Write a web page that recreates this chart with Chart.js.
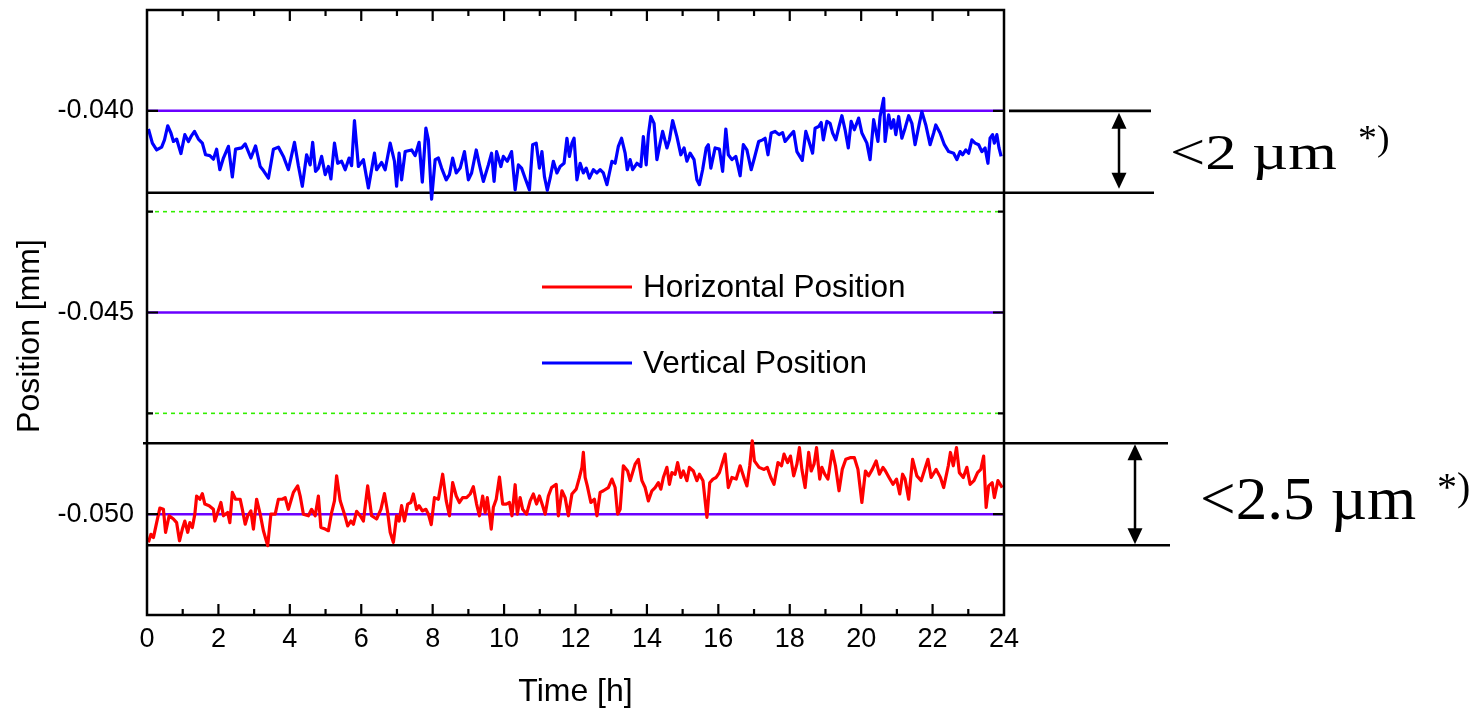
<!DOCTYPE html>
<html lang="en">
  <head>
    <meta charset="UTF-8" />
    <title>Beam position, 24 h</title>
    <script src="https://cdn.jsdelivr.net/npm/chart.js@4.4.1/dist/chart.umd.min.js"></script>
    <style>
      body { margin: 0; background: #fff; }
      canvas { display: block; }
    </style>
  </head>
  <body>
    <canvas id="posChart" width="1471" height="709"></canvas>
    <script>
      // vertical position (blue), time in hours / position in mm
      const vertHours = [
        0.04, 0.15, 0.27, 0.41, 0.49, 0.58, 0.67, 0.74, 0.83, 0.95,
        1.06, 1.16, 1.23, 1.33, 1.44, 1.55, 1.64, 1.76, 1.86, 1.95,
        2.04, 2.14, 2.28, 2.39, 2.48, 2.65, 2.75, 2.91, 3.04, 3.17,
        3.26, 3.40, 3.54, 3.68, 3.82, 3.96, 4.13, 4.24, 4.35, 4.47,
        4.57, 4.64, 4.72, 4.80, 4.89, 4.99, 5.08, 5.15, 5.25, 5.34,
        5.45, 5.55, 5.66, 5.73, 5.81, 5.92, 6.06, 6.20, 6.37, 6.43,
        6.57, 6.67, 6.81, 6.93, 6.99, 7.06, 7.13, 7.23, 7.41, 7.51,
        7.62, 7.71, 7.81, 7.88, 7.97, 8.07, 8.16, 8.25, 8.38, 8.47,
        8.56, 8.66, 8.77, 8.89, 9.00, 9.09, 9.22, 9.31, 9.42, 9.56,
        9.65, 9.72, 9.79, 9.91, 9.98, 10.09, 10.21, 10.31, 10.40, 10.49,
        10.59, 10.71, 10.80, 10.90, 10.99, 11.06, 11.13, 11.21, 11.29, 11.38,
        11.48, 11.57, 11.68, 11.76, 11.83, 11.90, 11.96, 12.04, 12.13, 12.22,
        12.30, 12.39, 12.50, 12.60, 12.69, 12.78, 12.88, 13.02, 13.11, 13.20,
        13.29, 13.39, 13.45, 13.53, 13.60, 13.72, 13.83, 13.90, 13.98, 14.04,
        14.11, 14.20, 14.28, 14.37, 14.44, 14.56, 14.63, 14.72, 14.84, 14.95,
        15.04, 15.12, 15.21, 15.32, 15.40, 15.47, 15.56, 15.66, 15.72, 15.79,
        15.91, 16.03, 16.12, 16.21, 16.28, 16.38, 16.49, 16.61, 16.70, 16.80,
        16.92, 17.01, 17.13, 17.24, 17.31, 17.39, 17.48, 17.59, 17.70, 17.80,
        17.87, 17.98, 18.11, 18.20, 18.35, 18.45, 18.54, 18.64, 18.71, 18.81,
        18.88, 18.94, 19.04, 19.13, 19.20, 19.29, 19.38, 19.46, 19.55, 19.64,
        19.72, 19.81, 19.93, 20.02, 20.16, 20.25, 20.35, 20.47, 20.53, 20.63,
        20.67, 20.77, 20.84, 20.91, 20.97, 21.05, 21.14, 21.23, 21.33, 21.42,
        21.51, 21.63, 21.70, 21.81, 21.93, 22.03, 22.09, 22.21, 22.33, 22.45,
        22.59, 22.68, 22.77, 22.84, 22.93, 23.01, 23.10, 23.19, 23.29, 23.38,
        23.47, 23.55, 23.61, 23.68, 23.73, 23.80, 23.86, 23.92
      ];
      const vertMm = [
        -0.04045, -0.04080, -0.04097, -0.04090, -0.04072, -0.04037, -0.04055, -0.04076, -0.04070, -0.04106,
        -0.04059, -0.04076, -0.04064, -0.04051, -0.04070, -0.04080, -0.04109, -0.04111, -0.04120, -0.04095,
        -0.04146, -0.04117, -0.04088, -0.04164, -0.04095, -0.04092, -0.04082, -0.04117, -0.04087, -0.04138,
        -0.04148, -0.04167, -0.04095, -0.04090, -0.04113, -0.04146, -0.04078, -0.04136, -0.04187, -0.04109,
        -0.04134, -0.04078, -0.04150, -0.04142, -0.04113, -0.04158, -0.04138, -0.04169, -0.04080, -0.04130,
        -0.04125, -0.04146, -0.04117, -0.04136, -0.04024, -0.04138, -0.04121, -0.04191, -0.04105, -0.04146,
        -0.04128, -0.04146, -0.04080, -0.04125, -0.04187, -0.04105, -0.04171, -0.04101, -0.04097, -0.04111,
        -0.04078, -0.04177, -0.04043, -0.04072, -0.04219, -0.04121, -0.04117, -0.04142, -0.04171, -0.04158,
        -0.04117, -0.04154, -0.04142, -0.04101, -0.04171, -0.04154, -0.04097, -0.04134, -0.04175, -0.04134,
        -0.04105, -0.04175, -0.04101, -0.04138, -0.04113, -0.04125, -0.04101, -0.04196, -0.04134, -0.04142,
        -0.04167, -0.04196, -0.04084, -0.04080, -0.04142, -0.04101, -0.04163, -0.04197, -0.04167, -0.04125,
        -0.04154, -0.04138, -0.04130, -0.04068, -0.04113, -0.04080, -0.04068, -0.04171, -0.04130, -0.04154,
        -0.04142, -0.04167, -0.04146, -0.04154, -0.04146, -0.04154, -0.04183, -0.04125, -0.04130, -0.04088,
        -0.04068, -0.04105, -0.04146, -0.04121, -0.04146, -0.04130, -0.04138, -0.04064, -0.04134, -0.04059,
        -0.04014, -0.04031, -0.04121, -0.04080, -0.04051, -0.04092, -0.04072, -0.04024, -0.04064, -0.04109,
        -0.04092, -0.04125, -0.04105, -0.04121, -0.04171, -0.04183, -0.04146, -0.04092, -0.04084, -0.04142,
        -0.04092, -0.04095, -0.04150, -0.04045, -0.04109, -0.04121, -0.04113, -0.04161, -0.04084, -0.04097,
        -0.04146, -0.04117, -0.04076, -0.04072, -0.04068, -0.04109, -0.04055, -0.04051, -0.04059, -0.04054,
        -0.04076, -0.04064, -0.04051, -0.04101, -0.04123, -0.04051, -0.04076, -0.04105, -0.04043, -0.04039,
        -0.04029, -0.04072, -0.04026, -0.04031, -0.04055, -0.04072, -0.04039, -0.04012, -0.04047, -0.04092,
        -0.04026, -0.04047, -0.04018, -0.04055, -0.04080, -0.04121, -0.04022, -0.04076, -0.04014, -0.03969,
        -0.04076, -0.04010, -0.04043, -0.04022, -0.04059, -0.04014, -0.04068, -0.04043, -0.04012, -0.04031,
        -0.04084, -0.04031, -0.04002, -0.04035, -0.04084, -0.04055, -0.04035, -0.04055, -0.04084, -0.04101,
        -0.04105, -0.04121, -0.04101, -0.04109, -0.04097, -0.04105, -0.04072, -0.04080, -0.04084, -0.04101,
        -0.04092, -0.04130, -0.04068, -0.04059, -0.04080, -0.04059, -0.04092, -0.04113
      ];

      // horizontal position (red)
      const horHours = [
        0.04, 0.11, 0.18, 0.27, 0.36, 0.46, 0.52, 0.62, 0.74, 0.83,
        0.91, 0.99, 1.06, 1.14, 1.20, 1.27, 1.34, 1.39, 1.48, 1.55,
        1.62, 1.74, 1.86, 1.90, 1.98, 2.07, 2.14, 2.26, 2.32, 2.39,
        2.48, 2.61, 2.67, 2.75, 2.82, 2.91, 2.98, 3.07, 3.17, 3.26,
        3.38, 3.47, 3.59, 3.68, 3.79, 3.87, 3.96, 4.10, 4.22, 4.29,
        4.38, 4.52, 4.61, 4.71, 4.80, 4.87, 4.99, 5.08, 5.17, 5.25,
        5.31, 5.41, 5.53, 5.62, 5.71, 5.78, 5.87, 5.97, 6.06, 6.18,
        6.29, 6.43, 6.55, 6.65, 6.74, 6.81, 6.90, 6.99, 7.06, 7.13,
        7.21, 7.30, 7.39, 7.46, 7.55, 7.62, 7.71, 7.81, 7.88, 7.96,
        8.05, 8.16, 8.28, 8.38, 8.47, 8.56, 8.66, 8.75, 8.84, 8.95,
        9.05, 9.14, 9.23, 9.31, 9.40, 9.47, 9.53, 9.59, 9.64, 9.70,
        9.78, 9.87, 9.96, 10.06, 10.15, 10.22, 10.31, 10.37, 10.45, 10.52,
        10.63, 10.73, 10.82, 10.91, 10.99, 11.08, 11.15, 11.24, 11.33, 11.46,
        11.52, 11.62, 11.71, 11.80, 11.90, 12.02, 12.11, 12.18, 12.22, 12.27,
        12.33, 12.43, 12.53, 12.60, 12.69, 12.78, 12.92, 13.02, 13.11, 13.18,
        13.25, 13.34, 13.46, 13.53, 13.67, 13.76, 13.86, 13.95, 14.04, 14.14,
        14.23, 14.32, 14.39, 14.46, 14.56, 14.63, 14.70, 14.79, 14.86, 14.95,
        15.02, 15.12, 15.19, 15.30, 15.40, 15.47, 15.57, 15.68, 15.76, 15.85,
        15.94, 16.03, 16.19, 16.28, 16.38, 16.50, 16.61, 16.73, 16.80, 16.88,
        16.95, 17.01, 17.14, 17.28, 17.37, 17.47, 17.56, 17.67, 17.77, 17.84,
        17.94, 18.02, 18.11, 18.20, 18.27, 18.34, 18.43, 18.53, 18.60, 18.68,
        18.75, 18.84, 18.90, 18.98, 19.07, 19.19, 19.28, 19.38, 19.47, 19.57,
        19.69, 19.81, 19.91, 20.02, 20.12, 20.21, 20.31, 20.42, 20.51, 20.61,
        20.68, 20.78, 20.89, 20.99, 21.08, 21.16, 21.23, 21.33, 21.44, 21.56,
        21.68, 21.87, 21.96, 22.10, 22.22, 22.31, 22.44, 22.50, 22.58, 22.67,
        22.75, 22.86, 22.96, 23.05, 23.16, 23.26, 23.35, 23.43, 23.50, 23.57,
        23.67, 23.73, 23.83, 23.95
      ];
      const horMm = [
        -0.05070, -0.05050, -0.05058, -0.05021, -0.04985, -0.04988, -0.05045, -0.05004, -0.05012, -0.05021,
        -0.05066, -0.05037, -0.05017, -0.05045, -0.05021, -0.05033, -0.05000, -0.04955, -0.04963, -0.04949,
        -0.04975, -0.04979, -0.04988, -0.05017, -0.04996, -0.04971, -0.05004, -0.04996, -0.05021, -0.04946,
        -0.04963, -0.04963, -0.04988, -0.05025, -0.05004, -0.04992, -0.05037, -0.04963, -0.05000, -0.05041,
        -0.05078, -0.05000, -0.05000, -0.04963, -0.04963, -0.04959, -0.04988, -0.04946, -0.04930, -0.04955,
        -0.05000, -0.05004, -0.04988, -0.05004, -0.04955, -0.05033, -0.05037, -0.05041, -0.04996, -0.04967,
        -0.04905, -0.04967, -0.05000, -0.05029, -0.05017, -0.05025, -0.04993, -0.05004, -0.05017, -0.04930,
        -0.05004, -0.05012, -0.04988, -0.04949, -0.04996, -0.05045, -0.05070, -0.05004, -0.05017, -0.04979,
        -0.05017, -0.04975, -0.04971, -0.04950, -0.04988, -0.04979, -0.04992, -0.04988, -0.05000, -0.05026,
        -0.04959, -0.04963, -0.04901, -0.04967, -0.05004, -0.04922, -0.04955, -0.04971, -0.04959, -0.04959,
        -0.04950, -0.04932, -0.04975, -0.05004, -0.04955, -0.04996, -0.04959, -0.05000, -0.05037, -0.04983,
        -0.04963, -0.04908, -0.04975, -0.04975, -0.04971, -0.05004, -0.04927, -0.05000, -0.04959, -0.04988,
        -0.05000, -0.04967, -0.04950, -0.04975, -0.04955, -0.04979, -0.05000, -0.04955, -0.04934, -0.04926,
        -0.05004, -0.04942, -0.04959, -0.05004, -0.04950, -0.04938, -0.04909, -0.04884, -0.04847, -0.04909,
        -0.04930, -0.04971, -0.04963, -0.05004, -0.04946, -0.04942, -0.04934, -0.04913, -0.04934, -0.05000,
        -0.04988, -0.04880, -0.04893, -0.04917, -0.04876, -0.04864, -0.04917, -0.04934, -0.04967, -0.04942,
        -0.04934, -0.04922, -0.04938, -0.04909, -0.04884, -0.04926, -0.04897, -0.04901, -0.04872, -0.04909,
        -0.04893, -0.04917, -0.04884, -0.04893, -0.04917, -0.04901, -0.04917, -0.05008, -0.04922, -0.04913,
        -0.04909, -0.04897, -0.04851, -0.04934, -0.04909, -0.04913, -0.04880, -0.04913, -0.04930, -0.04880,
        -0.04818, -0.04868, -0.04884, -0.04889, -0.04884, -0.04909, -0.04926, -0.04872, -0.04880, -0.04851,
        -0.04872, -0.04856, -0.04905, -0.04876, -0.04835, -0.04889, -0.04934, -0.04847, -0.04893, -0.04876,
        -0.04835, -0.04913, -0.04884, -0.04901, -0.04913, -0.04843, -0.04880, -0.04942, -0.04889, -0.04864,
        -0.04860, -0.04860, -0.04889, -0.04971, -0.04893, -0.04905, -0.04889, -0.04868, -0.04901, -0.04884,
        -0.04893, -0.04909, -0.04926, -0.04913, -0.04950, -0.04901, -0.04913, -0.04963, -0.04864, -0.04905,
        -0.04917, -0.04864, -0.04909, -0.04889, -0.04909, -0.04934, -0.04880, -0.04847, -0.04880, -0.04835,
        -0.04897, -0.04909, -0.04884, -0.04926, -0.04917, -0.04897, -0.04889, -0.04856, -0.04983, -0.04930,
        -0.04922, -0.04959, -0.04917, -0.04934
      ];

      // reference levels (mm)
      const majorLevels = [-0.040, -0.045, -0.050];
      const minorLevels = [-0.0425, -0.0475];
      // stability bands: [upper, lower] in mm and their labels
      const vertBand = [-0.0400, -0.04203];
      const horBand = [-0.04824, -0.05077];
      const bandLabels = ["<2 \u00b5m", "<2.5 \u00b5m"];

      const SANS = "'Liberation Sans', Arial, sans-serif";
      const SERIF = "'Liberation Serif', 'Times New Roman', serif";
      Chart.defaults.font.family = SANS;
      Chart.defaults.color = "#000";

      const pts = (xs, ys) => xs.map((x, i) => ({ x: x, y: ys[i] }));

      const datasets = [
        {
          label: "Horizontal Position",
          data: pts(horHours, horMm),
          borderColor: "#ff0000",
          borderWidth: 3.2,
          borderJoinStyle: "round",
          order: 0,
        },
        {
          label: "Vertical Position",
          data: pts(vertHours, vertMm),
          borderColor: "#0000ff",
          borderWidth: 3.2,
          borderJoinStyle: "round",
          order: 0,
        },
      ];
      majorLevels.forEach((v) => {
        datasets.push({
          data: [{ x: 0, y: v }, { x: 24, y: v }],
          borderColor: "#6a00ff",
          borderWidth: 2.5,
          order: 2,
          ref: true,
        });
      });
      minorLevels.forEach((v) => {
        datasets.push({
          data: [{ x: 0, y: v }, { x: 24, y: v }],
          borderColor: "#33ee00",
          borderWidth: 1.6,
          borderDash: [4, 4],
          order: 2,
          ref: true,
        });
      });

      function hline(ctx, x1, x2, y) {
        ctx.beginPath();
        ctx.moveTo(x1, y);
        ctx.lineTo(x2, y);
        ctx.stroke();
      }

      function arrow(ctx, x, yTop, yBot) {
        const head = 16, half = 7.5;
        ctx.beginPath();
        ctx.moveTo(x, yTop + head - 2);
        ctx.lineTo(x, yBot - head + 2);
        ctx.stroke();
        ctx.beginPath();
        ctx.moveTo(x, yTop);
        ctx.lineTo(x - half, yTop + head);
        ctx.lineTo(x + half, yTop + head);
        ctx.closePath();
        ctx.fill();
        ctx.beginPath();
        ctx.moveTo(x, yBot);
        ctx.lineTo(x - half, yBot - head);
        ctx.lineTo(x + half, yBot - head);
        ctx.closePath();
        ctx.fill();
      }

      function stretchText(ctx, str, x, y, size, sx) {
        ctx.save();
        ctx.translate(x, y);
        ctx.scale(sx, 1);
        ctx.font = size + "px " + SERIF;
        ctx.textAlign = "left";
        ctx.textBaseline = "alphabetic";
        ctx.fillText(str, 0, 0);
        ctx.restore();
      }

      const decor = {
        id: "decor",
        beforeDatasetsDraw(chart) {
          const { ctx, chartArea: a, scales } = chart;
          const y = scales.y;
          ctx.save();
          ctx.strokeStyle = "#000";
          ctx.lineWidth = 2.6;
          hline(ctx, a.right + 5, a.right + 147, y.getPixelForValue(vertBand[0]));
          hline(ctx, a.left, a.right + 150, y.getPixelForValue(vertBand[1]));
          hline(ctx, a.left - 4, a.right + 164, y.getPixelForValue(horBand[0]));
          hline(ctx, a.left, a.right + 166, y.getPixelForValue(horBand[1]));
          ctx.restore();
        },
        afterDatasetsDraw(chart) {
          const { ctx, chartArea: a, scales } = chart;
          const x = scales.x, y = scales.y;
          ctx.save();
          ctx.strokeStyle = "#000";
          ctx.fillStyle = "#000";
          ctx.lineWidth = 2.5;
          ctx.strokeRect(a.left, a.top, a.right - a.left, a.bottom - a.top);

          // inward ticks on all four sides
          ctx.lineWidth = 2.2;
          x.ticks.forEach((t) => {
            if (t.value <= x.min || t.value >= x.max) return;
            const len = t.value % 2 === 0 ? 11 : 6;
            const px = x.getPixelForValue(t.value);
            ctx.beginPath();
            ctx.moveTo(px, a.bottom);
            ctx.lineTo(px, a.bottom - len);
            ctx.moveTo(px, a.top);
            ctx.lineTo(px, a.top + len);
            ctx.stroke();
          });
          y.ticks.forEach((t) => {
            if (t.value <= y.min + 1e-9 || t.value >= y.max - 1e-9) return;
            const major = Math.round(t.value * 1e4) % 50 === 0;
            const len = major ? 11 : 6;
            const py = y.getPixelForValue(t.value);
            ctx.beginPath();
            ctx.moveTo(a.left, py);
            ctx.lineTo(a.left + len, py);
            ctx.moveTo(a.right, py);
            ctx.lineTo(a.right - len, py);
            ctx.stroke();
          });

          // band arrows and labels
          ctx.lineWidth = 2.5;
          const v0 = y.getPixelForValue(vertBand[0]);
          const v1 = y.getPixelForValue(vertBand[1]);
          const h0 = y.getPixelForValue(horBand[0]);
          const h1 = y.getPixelForValue(horBand[1]);
          arrow(ctx, a.right + 115, v0 + 2, v1 - 4);
          arrow(ctx, a.right + 131, h0 + 1, h1 - 1);
          stretchText(ctx, bandLabels[0], a.right + 166, v1 - 24, 50, 1.25);
          stretchText(ctx, "*)", a.right + 354, v0 + 39, 36, 1.05);
          stretchText(ctx, bandLabels[1], a.right + 196, h1 - 26, 62, 1.02);
          stretchText(ctx, "*)", a.right + 433, h0 + 57, 40, 1.0);

          // legend inside the plot
          const legendRows = chart.data.datasets.filter((d) => !d.ref);
          legendRows.forEach((d, i) => {
            const ly = 287 + i * 76;
            ctx.strokeStyle = d.borderColor;
            ctx.lineWidth = 3;
            hline(ctx, a.left + 395, a.left + 485, ly);
            ctx.fillStyle = "#000";
            ctx.font = "31.5px " + SANS;
            ctx.textAlign = "left";
            ctx.textBaseline = "middle";
            ctx.fillText(d.label, a.left + 496, ly + 1);
          });

          // axis titles
          ctx.fillStyle = "#000";
          ctx.font = "32px " + SANS;
          ctx.textAlign = "center";
          ctx.textBaseline = "middle";
          ctx.fillText("Time [h]", (a.left + a.right) / 2, 692);
          ctx.translate(30, 336);
          ctx.rotate(-Math.PI / 2);
          ctx.fillText("Position [mm]", 0, 0);
          ctx.restore();
        },
      };

      new Chart(document.getElementById("posChart"), {
        type: "line",
        data: { datasets: datasets },
        options: {
          responsive: false,
          animation: false,
          events: [],
          layout: { padding: { top: 10, right: 467, bottom: 0, left: 0 } },
          elements: { point: { radius: 0 }, line: { tension: 0 } },
          plugins: { legend: { display: false }, tooltip: { enabled: false } },
          scales: {
            x: {
              type: "linear",
              min: 0,
              max: 24,
              grid: { display: false, drawTicks: false },
              border: { display: false },
              ticks: {
                stepSize: 1,
                autoSkip: false,
                maxRotation: 0,
                padding: 8,
                color: "#000",
                font: { size: 27 },
                callback: (v) => (v % 2 === 0 ? String(v) : ""),
              },
              afterFit: (s) => {
                s.height = 94;
                s.paddingLeft = 0;
                s.paddingRight = 0;
              },
            },
            y: {
              min: -0.0525,
              max: -0.0375,
              grid: { display: false, drawTicks: false },
              border: { display: false },
              ticks: {
                stepSize: 0.0025,
                padding: 13,
                color: "#000",
                font: { size: 27 },
                callback: (v) => (Math.round(v * 1e4) % 50 === 0 ? v.toFixed(3) : ""),
              },
              afterFit: (s) => {
                s.width = 147;
                s.paddingTop = 0;
                s.paddingBottom = 0;
              },
            },
          },
        },
        plugins: [decor],
      });
    </script>
  </body>
</html>
